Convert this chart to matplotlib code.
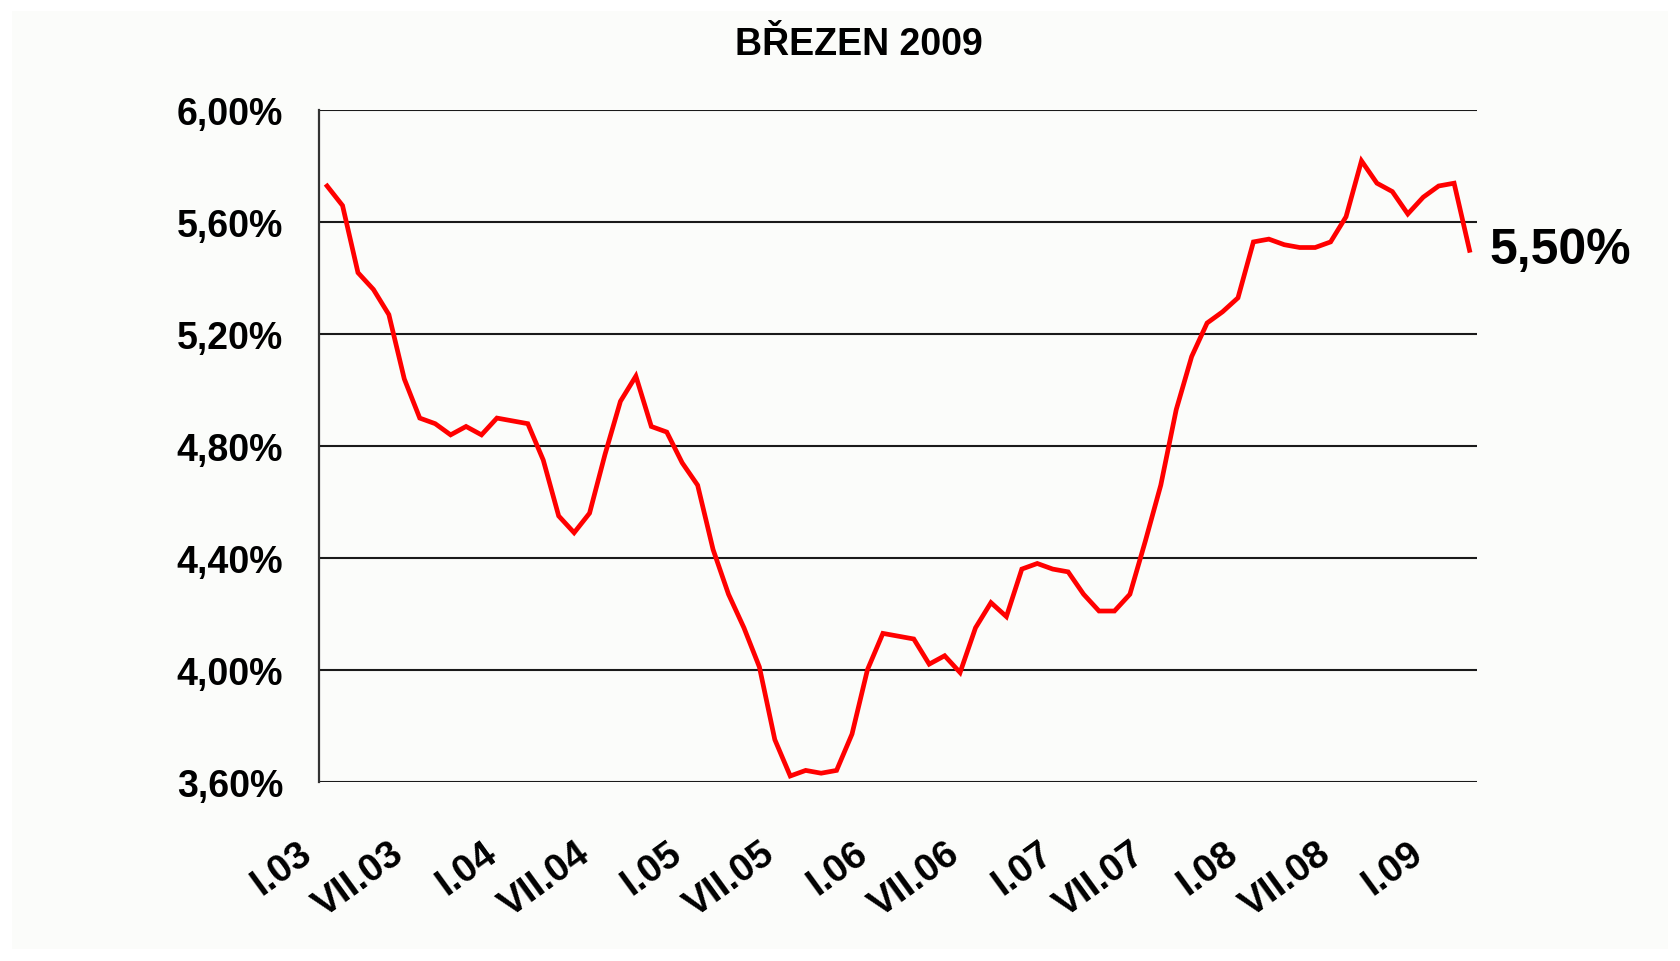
import numpy as np
import matplotlib
matplotlib.use("Agg")
from matplotlib import pyplot as plt
from matplotlib.patches import Rectangle
from matplotlib.transforms import ScaledTranslation

# monthly rate, I.03 .. III.09
rates = [
    5.73, 5.66, 5.42, 5.36, 5.27, 5.04, 4.90, 4.88, 4.84, 4.87, 4.84, 4.90,
    4.89, 4.88, 4.75, 4.55, 4.49, 4.56, 4.77, 4.96, 5.05, 4.87, 4.85, 4.74,
    4.66, 4.43, 4.27, 4.15, 4.01, 3.75, 3.62, 3.64, 3.63, 3.64, 3.77, 4.00,
    4.13, 4.12, 4.11, 4.02, 4.05, 3.99, 4.15, 4.24, 4.19, 4.36, 4.38, 4.36,
    4.35, 4.27, 4.21, 4.21, 4.27, 4.46, 4.66, 4.93, 5.12, 5.24, 5.28, 5.33,
    5.53, 5.54, 5.52, 5.51, 5.51, 5.53, 5.62, 5.82, 5.74, 5.71, 5.63, 5.69,
    5.73, 5.74, 5.50,
]
tick_labels = ["I.03", "VII.03", "I.04", "VII.04", "I.05", "VII.05", "I.06",
               "VII.06", "I.07", "VII.07", "I.08", "VII.08", "I.09"]
y_ticks = [3.60, 4.00, 4.40, 4.80, 5.20, 5.60, 6.00]
title = "BŘEZEN 2009"

plt.rcParams['font.family'] = ['Liberation Sans', 'DejaVu Sans']
plt.rcParams['font.weight'] = 'bold'

fig = plt.figure(figsize=(16.81, 9.62), dpi=100)
fig.patch.set_facecolor('white')
fig.add_artist(Rectangle((0.007, 0.012), 0.985, 0.976, transform=fig.transFigure,
                         facecolor='#fbfcfa', edgecolor='none', zorder=-5))

ax = fig.add_axes([0.190, 0.1865, 0.6888, 0.6976])
ax.set_facecolor('#fbfcfa')

x = np.arange(len(rates))
ax.plot(x, rates, color='#ff0000', lw=3.4, solid_joinstyle='miter', zorder=3)

ax.set_xlim(-0.5, len(rates) - 0.5)
ax.set_ylim(y_ticks[0], y_ticks[-1])
ax.set_yticks(y_ticks)
ax.set_yticklabels([f"{v:.2f}%".replace('.', ',') for v in y_ticks])
ax.grid(axis='y', color='#1a1a1a', lw=1.5)
ax.set_axisbelow(True)

for side in ['top', 'right', 'bottom']:
    ax.spines[side].set_visible(False)
ax.spines['left'].set_color('#333333')
ax.spines['left'].set_linewidth(1.6)

ax.tick_params(axis='y', length=0, pad=26, labelsize=27)
ax.tick_params(axis='x', length=0, pad=38, labelsize=28)

ax.set_xticks(x[::6])
ax.set_xticklabels(tick_labels, rotation=36, ha='right', va='top',
                   rotation_mode='anchor')
shift = ScaledTranslation(-0.30, 0, fig.dpi_scale_trans)
for lab in ax.get_xticklabels():
    lab.set_transform(lab.get_transform() + shift)

ax.annotate(f"{rates[-1]:.2f}%".replace('.', ','), xy=(x[-1], rates[-1]),
            xytext=(14, 0), textcoords='offset points', va='center', ha='left',
            fontsize=36, fontweight='bold', annotation_clip=False)

fig.text(0.511, 0.953, title, ha='center', va='center', fontsize=27,
         fontweight='bold')

fig.savefig('out.png', dpi=100, facecolor=fig.get_facecolor())
